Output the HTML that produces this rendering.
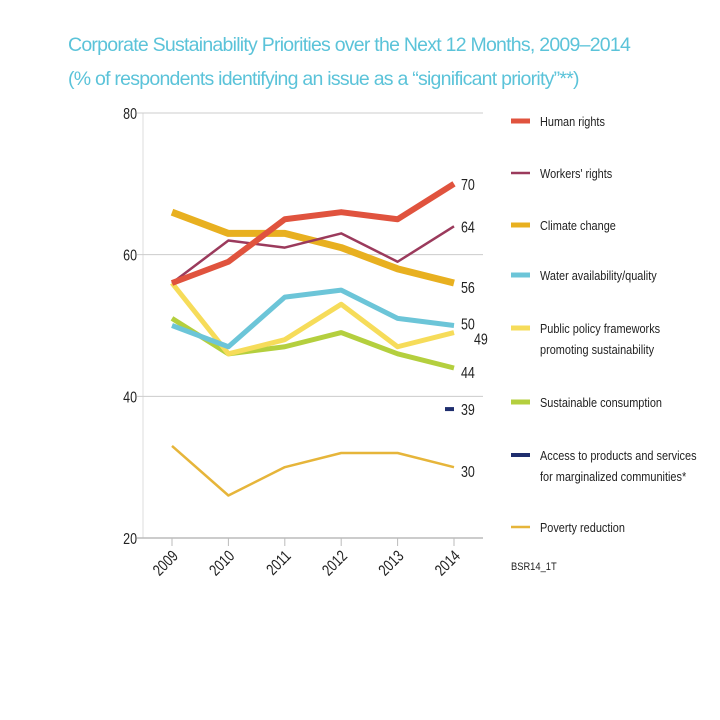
<!DOCTYPE html>
<html><head><meta charset="utf-8"><style>
body{margin:0;background:#fff;width:720px;height:720px;overflow:hidden;font-family:"Liberation Sans",sans-serif}
.t{position:absolute;left:68px;color:#5bc3d9;font-size:19.5px;font-family:"Liberation Sans",sans-serif;letter-spacing:-0.75px;white-space:nowrap}
</style></head><body>
<div class="t" style="top:34px">Corporate Sustainability Priorities over the Next 12 Months, 2009–2014</div>
<div class="t" style="top:68px">(% of respondents identifying an issue as a “significant priority”**)</div>
<svg id="c" width="720" height="720" style="position:absolute;left:0;top:0"></svg>
<script>
const years=["2009","2010","2011","2012","2013","2014"];
const yTicks=[20,40,60,80];
const names=["Human rights","Workers' rights","Climate change","Water availability/quality","Public policy frameworks|promoting sustainability","Sustainable consumption","Access to products and services|for marginalized communities*","Poverty reduction"];
const colors=["#e0533e","#9b3a5c","#e8b020","#6cc5d8","#f6dc5a","#b4cf3e","#1f2e6e","#e6b53a"];
const widths=[6,2.5,7,5,5,5,4,2.5];
const humanRights=[56,59,65,66,65,70];
const workersRights=[56,62,61,63,59,64];
const climateChange=[66,63,63,61,58,56];
const water=[50,47,54,55,51,50];
const publicPolicy=[56,46,48,53,47,49];
const sustainableConsumption=[51,46,47,49,46,44];
const access=[null,null,null,null,null,38.2];
const poverty=[33,26,30,32,32,30];
const endLabels=["70","64","56","50","49","44","39","30"];
const series=[humanRights,workersRights,climateChange,water,publicPolicy,sustainableConsumption,access,poverty];
const drawOrder=[7,5,4,3,2,1,0,6];
const svg=document.getElementById('c');const NS="http://www.w3.org/2000/svg";
const x=i=>172+i*56.4;const y=v=>538-(v-20)*(425/60);
function mk(t,a,p){const e=document.createElementNS(NS,t);for(const k in a)e.setAttribute(k,a[k]);(p||svg).appendChild(e);return e;}
function txt(px,py,s,size,anchor,sx,rot,p){const g=mk('g',{transform:`translate(${px} ${py})`+(rot?` rotate(${rot})`:'')+` scale(${sx} 1)`},p);
const t=mk('text',{x:0,y:0,'font-size':size,fill:'#222','text-anchor':anchor||'start'},g);t.textContent=s;return g;}
let e=mk('line',{x1:143,y1:113,x2:143,y2:538,stroke:'#ddd'});


yTicks.forEach(v=>{const g=mk('line',{x1:137,x2:483,y1:y(v),y2:y(v),stroke:v==20?'#bbb':'#ccc','stroke-width':v==20?1.5:1});


const t=txt(137,y(v)+6,v,16,'end',0.78);

});
years.forEach((yr,i)=>{const tk=mk('line',{x1:x(i),x2:x(i),y1:538,y2:546,stroke:'#bbb'});


const t=txt(x(i)+7,557,yr,16,'end',0.78,-45);

});
drawOrder.forEach(s=>{const d=series[s];
if(s==6){const r=mk('rect',{x:445,y:y(d[5])-2,width:9,height:4,fill:colors[s]});

return;}
const p=mk('polyline',{points:d.map((v,i)=>x(i)+','+y(v)).join(' '),fill:'none',stroke:colors[s],'stroke-width':widths[s],'stroke-linejoin':'round'});

});
const labYOff=[0,0,4,-2,6,4,0,4];
series.forEach((d,s)=>{const v=d[5];const lx=s==4?474:461;
const t=txt(lx,y(v)+6+labYOff[s],endLabels[s],16,'start',0.78);

});
const legY=[121,173,225,275,328,402,455,527];
names.forEach((n,s)=>{const g=mk('g',{});


mk('line',{x1:511,x2:530,y1:legY[s],y2:legY[s],stroke:colors[s],'stroke-width':Math.min(widths[s],5)},g);
n.split('|').forEach((ln,k)=>{txt(540,legY[s]+5+k*21,ln,13,'start',0.84,0,g);});});
const f=txt(511,570,"BSR14_1T",11,'start',0.85);


</script>
</body></html>
